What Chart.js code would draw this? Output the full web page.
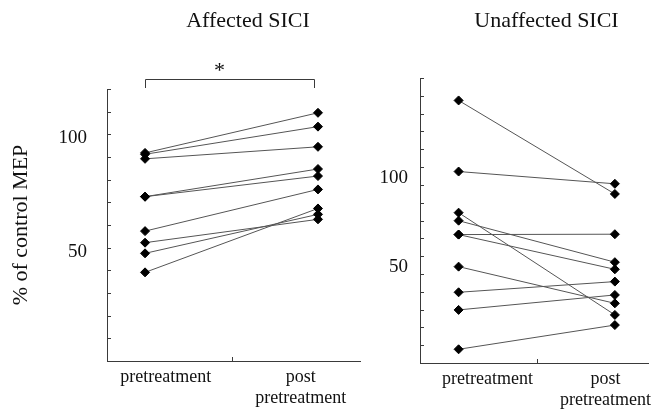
<!DOCTYPE html>
<html>
<head>
<meta charset="utf-8">
<title>SICI</title>
<script src="https://cdn.jsdelivr.net/npm/chart.js@4"></script>
<style>
  body { margin: 0; background: #fff; }
  #wrap { position: relative; width: 657px; height: 412px; overflow: hidden; }
  canvas { position: absolute; top: 0; }
  #leftChart { left: 0; }
  #rightChart { left: 370px; }
</style>
</head>
<body>
<div id="wrap">
  <canvas id="leftChart" width="370" height="412"></canvas>
  <canvas id="rightChart" width="287" height="412"></canvas>
</div>
<script>
// category labels (x = 0 pretreatment, x = 1 post pretreatment)
const groups = ["pretreatment", ["post", "pretreatment"]];

// one entry per subject
const affectedPre = [91.8, 91.2, 89.2, 72.5, 72.5, 57.3, 52.2, 47.5, 39.1];
const affectedPost = [109.5, 103.4, 94.5, 84.7, 81.6, 75.7, 62.5, 64.7, 67.3];
const unaffectedPre = [142.4, 102.5, 79.4, 74.9, 67.1, 67.1, 49.1, 34.7, 24.8, 2.7];
const unaffectedPost = [89.9, 95.6, 22.0, 51.6, 67.3, 47.6, 28.5, 40.7, 33.2, 16.3];

// y tick labels and small tick marks
const yLabels = [50, 100];
const affectedMarks = [0, 10, 20, 30, 40, 50, 60, 70, 80, 90, 100, 110, 120];
const unaffectedMarks = [-5, 5, 15, 25, 35, 45, 55, 65, 75, 85, 95, 105, 115, 125, 135, 145, 155];

const FONT = "'Liberation Serif', 'Times New Roman', serif";
const INK = "#111";
const AXIS = "#3a3a3a";

// inner tick marks, panel titles, significance bracket
const decorations = {
  id: "decorations",
  afterDraw(chart, args, opts) {
    const ctx = chart.ctx;
    const xs = chart.scales.x;
    const ys = chart.scales.y;
    const area = chart.chartArea;
    ctx.save();
    ctx.strokeStyle = AXIS;
    ctx.lineWidth = 1;
    ctx.beginPath();
    opts.yMarks.forEach(v => {
      const py = Math.round(ys.getPixelForValue(v)) + 0.5;
      ctx.moveTo(area.left, py);
      ctx.lineTo(area.left + 4, py);
    });
    opts.xMarks.forEach(v => {
      const px = Math.round(xs.getPixelForValue(v)) + 0.5;
      ctx.moveTo(px, area.bottom);
      ctx.lineTo(px, area.bottom - 4);
    });
    ctx.stroke();

    ctx.fillStyle = INK;
    ctx.font = "22px " + FONT;
    ctx.textAlign = "center";
    ctx.textBaseline = "alphabetic";
    ctx.fillText(opts.title, opts.titleX, 27);

    if (opts.bracket) {
      const x0 = Math.round(xs.getPixelForValue(0)) + 0.5;
      const x1 = Math.round(xs.getPixelForValue(1)) - 3.5;
      const top = area.top - 9.5;
      ctx.beginPath();
      ctx.moveTo(x0, area.top - 1);
      ctx.lineTo(x0, top);
      ctx.lineTo(x1, top);
      ctx.lineTo(x1, area.top - 1);
      ctx.stroke();
      ctx.fillText("*", xs.getPixelForValue(0.43), top - 3);
    }
    ctx.restore();
  }
};

function subjects(pre, post) {
  return pre.map((v, i) => ({
    data: [{ x: 0, y: v }, { x: 1, y: post[i] }],
    borderColor: "#555",
    borderWidth: 1,
    pointStyle: "rectRot",
    pointRadius: 4.5,
    pointBackgroundColor: "#000",
    pointBorderColor: "#000",
    pointBorderWidth: 1,
    clip: false
  }));
}

function makeChart(id, p) {
  return new Chart(document.getElementById(id), {
    type: "line",
    data: { datasets: subjects(p.pre, p.post) },
    plugins: [decorations],
    options: {
      responsive: false,
      animation: false,
      layout: { padding: p.padding },
      plugins: {
        legend: { display: false },
        tooltip: { enabled: false },
        decorations: {
          yMarks: p.marks,
          xMarks: [0.5],
          title: p.title,
          titleX: p.titleX,
          bracket: p.bracket
        }
      },
      scales: {
        x: {
          type: "linear",
          min: p.xMin,
          max: p.xMax,
          afterBuildTicks: s => { s.ticks = p.labelAt.map(v => ({ value: v })); },
          afterFit: s => { s.height = p.xHeight; },
          grid: { display: false, drawTicks: false },
          border: { display: true, color: AXIS, width: 1 },
          ticks: {
            padding: 5,
            maxRotation: 0,
            autoSkip: false,
            color: INK,
            font: { family: FONT, size: 18, lineHeight: 1.2 },
            callback: (v, i) => groups[i]
          }
        },
        y: {
          min: p.yMin,
          max: p.yMax,
          afterBuildTicks: s => { s.ticks = yLabels.map(v => ({ value: v })); },
          afterFit: s => { s.width = p.yWidth; },
          grid: { display: false, drawTicks: false },
          border: { display: true, color: AXIS, width: 1 },
          ticks: {
            padding: p.yPad,
            labelOffset: p.yLabelOffset,
            color: INK,
            font: { family: FONT, size: 19 },
            callback: v => String(v)
          },
          title: p.yTitle ? {
            display: true,
            text: p.yTitle,
            color: INK,
            font: { family: FONT, size: 22 },
            padding: { top: 8, bottom: 0 }
          } : { display: false }
        }
      }
    }
  });
}

makeChart("leftChart", {
  pre: affectedPre, post: affectedPost, marks: affectedMarks,
  title: "Affected SICI", titleX: 248, bracket: true,
  padding: { top: 89, right: 10, bottom: 0, left: 0 },
  xMin: -0.22, xMax: 1.243, labelAt: [0.12, 0.9], xHeight: 51,
  yMin: 0, yMax: 120, yWidth: 107, yPad: 20, yLabelOffset: 4, yTitle: "% of control MEP"
});

makeChart("rightChart", {
  pre: unaffectedPre, post: unaffectedPost, marks: unaffectedMarks,
  title: "Unaffected SICI", titleX: 176.5, bracket: false,
  padding: { top: 78, right: 0, bottom: 0, left: 0 },
  xMin: -0.247, xMax: 1.216, labelAt: [0.185, 0.94], xHeight: 49,
  yMin: -5, yMax: 155, yWidth: 50, yPad: 12, yLabelOffset: 2, yTitle: null
});
</script>
</body>
</html>
